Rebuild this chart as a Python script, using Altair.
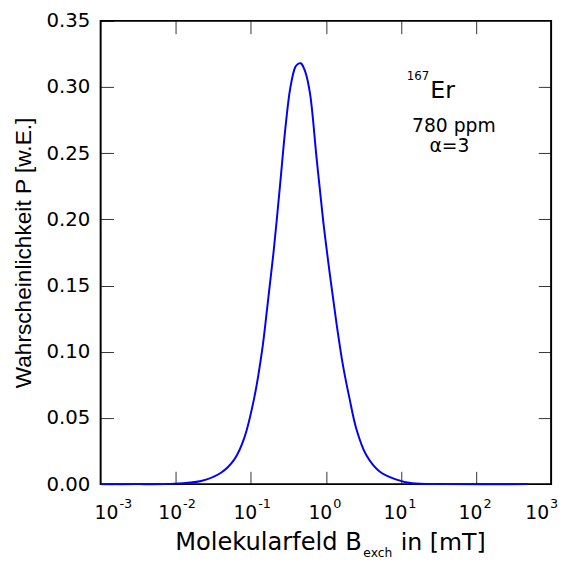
import altair as alt
import pandas as pd

# ---- data ----
field_mT = [0.001, 0.003, 0.0079, 0.0218, 0.0401, 0.0601, 0.0815, 0.1104, 0.1419, 0.1652,
            0.2023, 0.2472, 0.2877, 0.335, 0.3899, 0.42, 0.4634, 0.532, 0.6152, 0.7534,
            0.9226, 1.127, 1.384, 1.694, 2.07, 2.535, 3.436, 5.14, 8.531, 14.16, 38.9, 490.0]
prob = [0.0, 0.0, 0.0002, 0.0024, 0.0086, 0.0185, 0.0346, 0.0644, 0.1017, 0.133,
        0.177, 0.228, 0.268, 0.299, 0.315, 0.3172, 0.318, 0.3115, 0.295, 0.246,
        0.1985, 0.159, 0.1216, 0.0893, 0.0644, 0.0421, 0.0222, 0.0098, 0.0036, 0.0006, 0.0, 0.0]

x_tick_vals = [0.001, 0.01, 0.1, 1, 10, 100, 1000]
x_tick_exp = ["-3", "-2", "-1", "0", "1", "2", "3"]
x_inner_ticks = [0.01, 0.1, 1, 10, 100]
y_tick_vals = [0.0, 0.05, 0.10, 0.15, 0.20, 0.25, 0.30, 0.35]
y_inner_ticks = [0.05, 0.10, 0.15, 0.20, 0.25, 0.30]

x_title_parts = ["Molekularfeld B", "exch", "in [mT]"]
y_title = "Wahrscheinlichkeit P [w.E.]"
iso_mass = ["167"]
iso_elem = ["Er"]
iso_pos = [24.6, 0.2915]
conc_text = ["780 ppm"]
conc_pos = [50.7, 0.2662]
alpha_text = ["\u03b1=3"]
alpha_pos = [44.2, 0.2512]

# ---- chart ----
W, H = 457, 470
FONT = "DejaVu Sans"
xscale = alt.Scale(type="log", domain=[0.001, 1000], nice=False)
yscale = alt.Scale(domain=[0, 0.35], nice=False, zero=False)
tick_style = dict(tickSize=13, tickColor="#333333", tickWidth=1, domain=False, grid=False, offset=-13)

curve = pd.DataFrame({"B": field_mT, "P": prob})

frame = alt.Chart(pd.DataFrame({"x0": [0.001], "x1": [1000], "y0": [0.0], "y1": [0.35]})).mark_rect(
    fill="transparent", stroke="black", strokeWidth=2
).encode(
    x=alt.X("x0:Q", scale=xscale, axis=None), x2="x1:Q",
    y=alt.Y("y0:Q", scale=yscale, axis=None), y2="y1:Q",
)

mirror = alt.Chart(curve).mark_line(opacity=0).encode(
    x=alt.X("B:Q", scale=xscale, axis=alt.Axis(orient="top", values=x_inner_ticks, labels=False, title=None, **tick_style)),
    y=alt.Y("P:Q", scale=yscale, axis=alt.Axis(orient="right", values=y_inner_ticks, labels=False, title=None, **tick_style)),
)

line = alt.Chart(curve).mark_line(color="#0000ff", strokeWidth=2, interpolate="catmull-rom").encode(
    x=alt.X("B:Q", scale=xscale, axis=alt.Axis(orient="bottom", values=x_inner_ticks, labels=False, title=None, **tick_style)),
    y=alt.Y("P:Q", scale=yscale, axis=alt.Axis(
        orient="left", values=y_tick_vals, format=".2f", labelFont=FONT, labelFontSize=20,
        labelColor="black", labelPadding=11, title=y_title, titleFont="Liberation Sans",
        titleFontSize=23, titleFontWeight="normal", titleColor="black", titlePadding=11, **tick_style)),
)

ticks_df = pd.DataFrame({"v": x_tick_vals, "e": x_tick_exp, "i": list(range(len(x_tick_vals)))})


def tick_labels(cond, dx):
    base = alt.Chart(ticks_df).transform_filter(cond)
    ten = base.mark_text(text="10", font=FONT, fontSize=19, align="right", baseline="alphabetic",
                         dx=dx, color="black").encode(
        x=alt.X("v:Q", scale=xscale, axis=None), y=alt.value(505))
    sup = base.mark_text(font=FONT, fontSize=13, align="left", baseline="alphabetic",
                         dx=dx + 1, color="black").encode(
        x=alt.X("v:Q", scale=xscale, axis=None), y=alt.value(494.5), text="e:N")
    return [ten, sup]


xlabels = (tick_labels("datum.i == 0", 18) + tick_labels("datum.i > 0 && datum.i < 6", 6.5)
           + tick_labels("datum.i == 6", -2))

t1 = alt.Chart(pd.DataFrame({"t": [x_title_parts[0]]})).mark_text(
    font=FONT, fontSize=24.5, align="right", baseline="alphabetic", color="black"
).encode(x=alt.value(265), y=alt.value(537), text="t:N")
t2 = alt.Chart(pd.DataFrame({"t": [x_title_parts[1]]})).mark_text(
    font=FONT, fontSize=12.5, align="left", baseline="alphabetic", color="black"
).encode(x=alt.value(266.5), y=alt.value(544), text="t:N")
t3 = alt.Chart(pd.DataFrame({"t": [x_title_parts[2]]})).mark_text(
    font=FONT, fontSize=24, align="left", baseline="alphabetic", color="black"
).encode(x=alt.value(304.5), y=alt.value(537), text="t:N")

iso_df = pd.DataFrame({"x": [iso_pos[0]], "y": [iso_pos[1]], "m": iso_mass, "el": iso_elem})
n_mass = alt.Chart(iso_df).mark_text(font=FONT, fontSize=12, align="right", baseline="alphabetic",
                                     dx=-1, dy=-19, color="black").encode(
    x=alt.X("x:Q", scale=xscale, axis=None), y=alt.Y("y:Q", scale=yscale, axis=None), text="m:N")
n_elem = alt.Chart(iso_df).mark_text(font=FONT, fontSize=24, align="left", baseline="alphabetic",
                                     color="black").encode(
    x=alt.X("x:Q", scale=xscale, axis=None), y=alt.Y("y:Q", scale=yscale, axis=None), text="el:N")
conc = alt.Chart(pd.DataFrame({"x": [conc_pos[0]], "y": [conc_pos[1]], "t": conc_text})).mark_text(
    font=FONT, fontSize=19, align="center", baseline="alphabetic", color="black").encode(
    x=alt.X("x:Q", scale=xscale, axis=None), y=alt.Y("y:Q", scale=yscale, axis=None), text="t:N")
alpha = alt.Chart(pd.DataFrame({"x": [alpha_pos[0]], "y": [alpha_pos[1]], "t": alpha_text})).mark_text(
    font=FONT, fontSize=19, align="center", baseline="alphabetic", color="black").encode(
    x=alt.X("x:Q", scale=xscale, axis=None), y=alt.Y("y:Q", scale=yscale, axis=None), text="t:N")

chart = alt.layer(frame, mirror, line, *xlabels, t1, t2, t3, n_mass, n_elem, conc, alpha).resolve_axis(
    x="independent", y="independent"
).properties(
    width=W, height=H,
    padding={"left": 94, "top": 9, "right": 7, "bottom": 79},
    autosize=alt.AutoSizeParams(type="none"),
    background="white",
).configure_view(stroke=None)

chart.save("out.html", embed_options={"renderer": "svg", "actions": False})
